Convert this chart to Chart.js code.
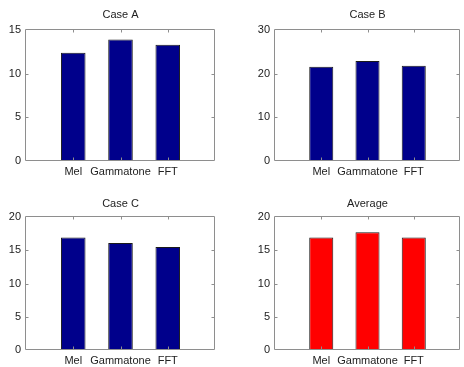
<!DOCTYPE html>
<html>
<head>
<meta charset="utf-8">
<script src="https://cdn.jsdelivr.net/npm/chart.js@4/dist/chart.umd.min.js"></script>
<style>
  html, body { margin: 0; padding: 0; background: #fff; }
  #wrap { position: relative; width: 464px; height: 367px; overflow: hidden; }
  #wrap canvas { position: absolute; }
</style>
</head>
<body>
<div id="wrap">
  <canvas id="cA" width="232" height="183" style="left:0;top:0;width:232px;height:183px"></canvas>
  <canvas id="cB" width="232" height="183" style="left:232px;top:0;width:232px;height:183px"></canvas>
  <canvas id="cC" width="232" height="184" style="left:0;top:183px;width:232px;height:184px"></canvas>
  <canvas id="cD" width="232" height="184" style="left:232px;top:183px;width:232px;height:184px"></canvas>
</div>
<script>
// ---- data ----
const categories = ['Mel', 'Gammatone', 'FFT'];
const caseA = [12.4, 13.9, 13.3];
const caseB = [21.6, 22.9, 21.8];
const caseC = [16.9, 16.1, 15.5];
const average = [16.9, 17.7, 16.9];
const titles = ['Case A', 'Case B', 'Case C', 'Average'];
const yMaxes = [15, 30, 20, 20];
const yTickSteps = [5, 10, 5, 5];

const NAVY = '#00008b';
const RED = '#ff0000';
const FONT = '"Liberation Sans", Arial, Helvetica, sans-serif';
const TEXT = '#222222';
const FRAME = '#8e8e8e';

const framePlugin = {
  id: 'frame',
  afterDatasetsDraw(chart, args, opts) {
    const { ctx, chartArea, scales } = chart;
    const x = scales.x, y = scales.y;
    const L = Math.round(chartArea.left) - 0.5;
    const R = Math.round(chartArea.right) - 0.5;
    const T = Math.round(chartArea.top) - 0.5;
    const B = Math.round(chartArea.bottom) - 0.5;
    ctx.save();
    ctx.strokeStyle = FRAME;
    ctx.lineWidth = 1;
    ctx.beginPath();
    ctx.rect(L, T, R - L, B - T);
    ctx.stroke();
    const tl = 3;
    ctx.beginPath();
    x.ticks.forEach(t => {
      if (t.value <= x.min || t.value >= x.max) return;
      const px = Math.round(x.getPixelForValue(t.value)) + 0.5;
      ctx.moveTo(px, T); ctx.lineTo(px, T + tl);
      ctx.moveTo(px, B); ctx.lineTo(px, B - tl);
    });
    y.ticks.forEach(t => {
      if (t.value <= y.min || t.value >= y.max) return;
      const py = Math.round(y.getPixelForValue(t.value)) + 0.5;
      ctx.moveTo(L, py); ctx.lineTo(L + tl, py);
      ctx.moveTo(R, py); ctx.lineTo(R - tl, py);
    });
    ctx.stroke();
    // title centred over the axes box
    ctx.fillStyle = TEXT;
    ctx.font = '11px ' + FONT;
    ctx.textAlign = 'center';
    ctx.textBaseline = 'middle';
    ctx.fillText(opts.text, (chartArea.left + chartArea.right) / 2, opts.y);
    ctx.restore();
  }
};

function makeChart(id, values, color, idx, box) {
  const pts = values.map((v, i) => ({ x: i + 1, y: v }));
  return new Chart(document.getElementById(id), {
    type: 'bar',
    data: {
      datasets: [{
        data: pts,
        backgroundColor: color,
        borderColor: '#1a1a1a',
        borderWidth: 1,
        borderSkipped: false,
        barPercentage: 0.52,
        categoryPercentage: 1.0
      }]
    },
    options: {
      responsive: false,
      animation: false,
      maintainAspectRatio: false,
      layout: { padding: { top: box.top, right: box.right, left: 0, bottom: 0 } },
      plugins: {
        legend: { display: false },
        tooltip: { enabled: false },
        title: { display: false },
        frame: { text: titles[idx], y: box.titleY }
      },
      scales: {
        x: {
          type: 'linear',
          min: 0, max: 4,
          offset: false,
          grid: { display: false, offset: false, drawTicks: false },
          border: { display: false },
          ticks: {
            stepSize: 1,
            autoSkip: false,
            maxRotation: 0,
            padding: 4,
            color: TEXT,
            font: { family: FONT, size: 11 },
            callback: v => (v >= 1 && v <= categories.length ? categories[v - 1] : '')
          },
          afterFit: s => { s.height = box.xH; }
        },
        y: {
          min: 0, max: yMaxes[idx],
          grid: { display: false, drawTicks: false },
          border: { display: false },
          ticks: {
            stepSize: yTickSteps[idx],
            padding: 5,
            color: TEXT,
            font: { family: FONT, size: 11 }
          },
          afterFit: s => { s.width = box.yW; }
        }
      }
    },
    plugins: [framePlugin]
  });
}

makeChart('cA', caseA, NAVY, 0, { top: 30, right: 17, yW: 26, xH: 22, titleY: 15 });
makeChart('cB', caseB, NAVY, 1, { top: 30, right: 0, yW: 43, xH: 22, titleY: 15 });
makeChart('cC', caseC, NAVY, 2, { top: 34, right: 17, yW: 26, xH: 17, titleY: 20.5 });
makeChart('cD', average, RED, 3, { top: 34, right: 0, yW: 43, xH: 17, titleY: 20.5 });
</script>
</body>
</html>
